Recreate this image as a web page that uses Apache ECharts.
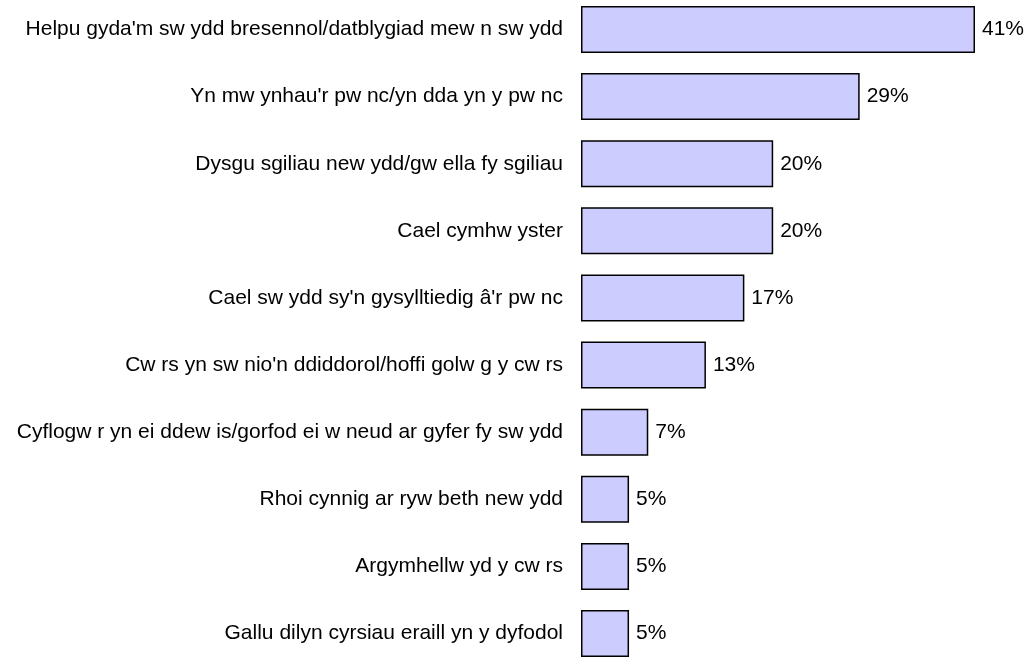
<!DOCTYPE html>
<html>
<head>
<meta charset="utf-8">
<script src="https://cdn.jsdelivr.net/npm/echarts@6/dist/echarts.min.js"></script>
<style>
  html, body { margin: 0; padding: 0; background: #fff; }
  #chart { width: 1028px; height: 657px; }
</style>
</head>
<body>
<div id="chart"></div>
<script>
// categories top to bottom, as shown in the picture
var categories = [
  "Helpu gyda'm sw ydd bresennol/datblygiad mew n sw ydd",
  "Yn mw ynhau'r pw nc/yn dda yn y pw nc",
  "Dysgu sgiliau new ydd/gw ella fy sgiliau",
  "Cael cymhw yster",
  "Cael sw ydd sy'n gysylltiedig â'r pw nc",
  "Cw rs yn sw nio'n ddiddorol/hoffi golw g y cw rs",
  "Cyflogw r yn ei ddew is/gorfod ei w neud ar gyfer fy sw ydd",
  "Rhoi cynnig ar ryw beth new ydd",
  "Argymhellw yd y cw rs",
  "Gallu dilyn cyrsiau eraill yn y dyfodol"
];
var values = [41, 29, 20, 20, 17, 13, 7, 5, 5, 5];

var chart = echarts.init(document.getElementById('chart'), null, { renderer: 'canvas' });

var option = {
  animation: false,
  backgroundColor: '#ffffff',
  grid: {
    left: 581,
    top: 29.5,
    width: 394,
    height: 604,
    containLabel: false,
    outerBoundsMode: 'none'
  },
  xAxis: {
    type: 'value',
    min: 0,
    max: 41,
    show: false
  },
  yAxis: {
    type: 'category',
    data: categories,
    inverse: true,
    boundaryGap: false,
    axisLine: { show: false },
    axisTick: { show: false },
    splitLine: { show: false },
    axisLabel: {
      margin: 18,
      color: '#000',
      fontFamily: 'Liberation Sans, Arial, sans-serif',
      fontSize: 21
    }
  },
  series: [{
    type: 'bar',
    data: values,
    barWidth: 47,
    clip: false,
    itemStyle: {
      color: '#ccccff',
      borderColor: '#000',
      borderWidth: 1.5
    },
    label: {
      show: true,
      position: 'right',
      distance: 7,
      formatter: '{c}%',
      color: '#000',
      fontFamily: 'Liberation Sans, Arial, sans-serif',
      fontSize: 21
    }
  }]
};

chart.setOption(option);
</script>
</body>
</html>
